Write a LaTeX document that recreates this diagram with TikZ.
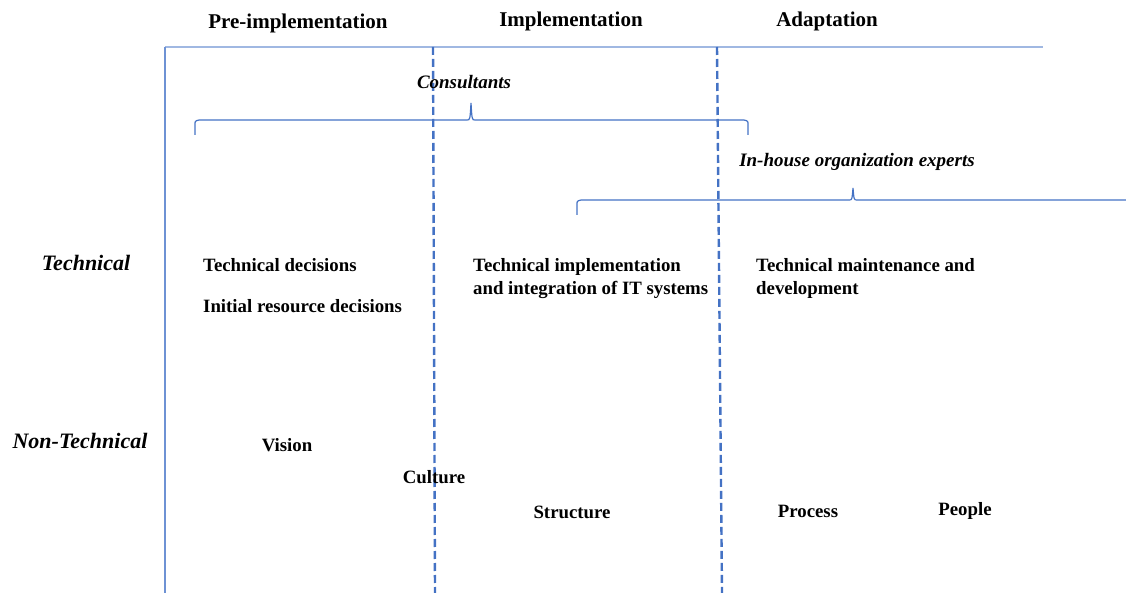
\documentclass[tikz,border=0pt]{standalone}
\usepackage{fontspec}
\setmainfont{Liberation Serif}
\usetikzlibrary{positioning}
\definecolor{phblue}{RGB}{68,114,196}
\definecolor{phmidblue}{RGB}{110,146,212}
\definecolor{phlightblue}{RGB}{160,184,226}
\tikzstyle{phase} = [font=\fontsize{21}{25}\selectfont\bfseries, inner sep=0pt]
\tikzstyle{dimension} = [font=\fontsize{22}{25}\selectfont\bfseries\itshape, inner sep=0pt]
\tikzstyle{actor} = [font=\fontsize{19}{22}\selectfont\bfseries\itshape, inner sep=0pt]
\tikzstyle{item} = [font=\fontsize{18.8}{23}\selectfont\bfseries, inner sep=0pt, align=left]
\tikzstyle{divider} = [phblue, line width=2.4pt, dash pattern=on 8pt off 4pt]
\tikzstyle{bracket} = [phblue, line width=1.2pt]
\begin{document}
\begin{tikzpicture}[x=1pt, y=-1pt]
\useasboundingbox (0,0) rectangle (1126,593);

% Frame and phase dividers
\coordinate (topleft) at (165,47);
\coordinate (topright) at (1043,47);
\coordinate (botleft) at (165,593);
\draw[phlightblue, line width=1.3pt] (topleft) -- (topright);
\draw[phmidblue, line width=1.1pt] (topleft) -- (botleft);
\coordinate (div1top) at (433,47);
\coordinate (div1bot) at (435,593);
\coordinate (div2top) at (717,47);
\coordinate (div2bot) at (722,593);
\draw[divider] (div1top) -- (div1bot);
\draw[divider] (div2top) -- (div2bot);

% Phase headers
\node (preimpl) [phase] at (298,23) {Pre-implementation};
\node (impl) [phase] at (571,21) {Implementation};
\node (adapt) [phase] at (827,21) {Adaptation};

% Actors and brackets
\node (consult) [actor] at (464,82) {Consultants};
\draw[bracket] (195,135) -- (195,125) .. controls (195,121) .. (199,120) -- (467,120)
  .. controls (470,120) .. (471,103) .. controls (472,120) .. (475,120) -- (744,120)
  .. controls (748,121) .. (748,125) -- (748,135);
\node (inhouse) [actor] at (857,162) {In-house organization experts};
\draw[bracket] (577,215) -- (577,205) .. controls (577,201) .. (581,200) -- (849,200)
  .. controls (852,200) .. (853,188) .. controls (854,200) .. (857,200) -- (1126,200);

% Dimensions
\node (technical) [dimension] at (86,263) {Technical};
\node (nontech) [dimension] at (80,441) {Non-Technical};

% Technical items
\node (techdec) [item, anchor=west] at (203,265) {Technical decisions};
\node (initres) [item, anchor=west] at ([yshift=-41pt]techdec.west) {Initial resource decisions};
\node (techimpl) [item, anchor=west] at (473,279) {Technical implementation\\and integration of IT systems};
\node (techmaint) [item, anchor=west] at (756,278) {Technical maintenance and\\development};

% Non-technical items
\node (vision) [item] at (287,445) {Vision};
\node (culture) [item] at (434,477) {Culture};
\node (structure) [item] at (572,512) {Structure};
\node (process) [item] at (808,511) {Process};
\node (people) [item] at (965,511) {People};
\end{tikzpicture}
\end{document}
